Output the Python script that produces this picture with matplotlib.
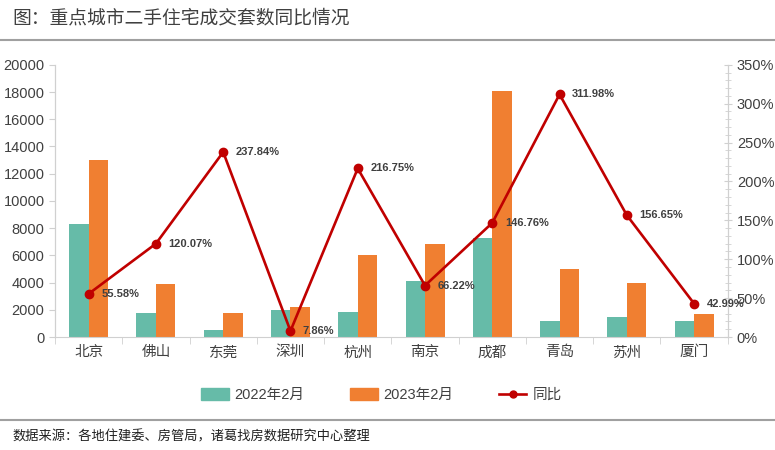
import matplotlib.pyplot as plt
import numpy as np
from matplotlib.lines import Line2D
from matplotlib.ticker import MultipleLocator, PercentFormatter

plt.rcParams['font.family'] = ['Liberation Sans', 'Noto Sans CJK SC', 'DejaVu Sans']

# 数据
cities = ['北京', '佛山', '东莞', '深圳', '杭州', '南京', '成都', '青岛', '苏州', '厦门']
sales_2022 = [8300, 1800, 500, 1980, 1820, 4140, 7300, 1170, 1490, 1180]
sales_2023 = [13000, 3900, 1800, 2190, 6030, 6860, 18050, 4980, 3970, 1690]
yoy = [55.58, 120.07, 237.84, 7.86, 216.75, 66.22, 146.76, 311.98, 156.65, 42.99]

c_2022 = '#66BBA8'
c_2023 = '#F07F31'
c_yoy = '#C00000'
c_axis = '#D0D0D0'
c_text = '#404040'

fig = plt.figure(figsize=(7.75, 4.5), dpi=100)
ax = fig.add_axes([0.071, 0.251, 0.868, 0.605])
ax2 = ax.twinx()

x = np.arange(len(cities))
w = 0.29
ax.bar(x - w / 2, sales_2022, w, color=c_2022, zorder=2)
ax.bar(x + w / 2, sales_2023, w, color=c_2023, zorder=2)

ax.set_xlim(-0.5, len(cities) - 0.5)
ax.set_ylim(0, 20000)
ax.yaxis.set_major_locator(MultipleLocator(2000))
ax.set_xticks(x)
ax.set_xticklabels(cities, fontsize=10.5, color=c_text)
ax.tick_params(axis='x', length=0, pad=6)
ax.set_xticks(np.arange(-0.5, len(cities)), minor=True)
ax.tick_params(axis='x', which='minor', length=5, color=c_axis)
ax.tick_params(axis='y', labelsize=10.5, labelcolor=c_text, length=4, color=c_axis)

ax2.plot(x, yoy, color=c_yoy, lw=1.9, marker='o', ms=6, zorder=3)
ax2.set_ylim(0, 350)
ax2.yaxis.set_major_locator(MultipleLocator(50))
ax2.yaxis.set_minor_locator(MultipleLocator(10))
ax2.yaxis.set_major_formatter(PercentFormatter(decimals=0))
ax2.tick_params(axis='y', which='major', labelsize=10.5, labelcolor=c_text,
                length=6, direction='inout', color=c_axis)
ax2.tick_params(axis='y', which='minor', length=4, direction='inout', color=c_axis)

for xi, v in zip(x, yoy):
    ax2.annotate(f'{v:.2f}%', (xi, v), xytext=(9, 0), textcoords='offset points',
                 va='center', ha='left', fontsize=8, fontweight='bold', color=c_text,
                 zorder=4)

for a in (ax, ax2):
    a.spines['top'].set_visible(False)
    for s in ('left', 'right', 'bottom'):
        a.spines[s].set_color(c_axis)
ax2.spines['bottom'].set_visible(False)

# 标题和分隔线
fig.text(0.016, 0.958, '图：重点城市二手住宅成交套数同比情况', fontsize=13.5,
         color=c_text, va='center', ha='left')
fig.add_artist(Line2D([0, 1], [0.911, 0.911], color='#A0A0A0', lw=1.5))
fig.add_artist(Line2D([0, 1], [0.067, 0.067], color='#A0A0A0', lw=1.5))
fig.text(0.016, 0.029, '数据来源：各地住建委、房管局，诸葛找房数据研究中心整理',
         fontsize=9.5, color='#202020', va='center', ha='left')

handles = [plt.Rectangle((0, 0), 1, 1, color=c_2022),
           plt.Rectangle((0, 0), 1, 1, color=c_2023),
           Line2D([], [], color=c_yoy, lw=1.9, marker='o', ms=5)]
fig.legend(handles, ['2022年2月', '2023年2月', '同比'], loc='center',
           bbox_to_anchor=(0.492, 0.122), ncol=3, frameon=False, fontsize=10.5,
           handlelength=1.9, handleheight=0.8, handletextpad=0.4,
           columnspacing=3.1, labelcolor=c_text)

fig.savefig('out.png', dpi=100)
